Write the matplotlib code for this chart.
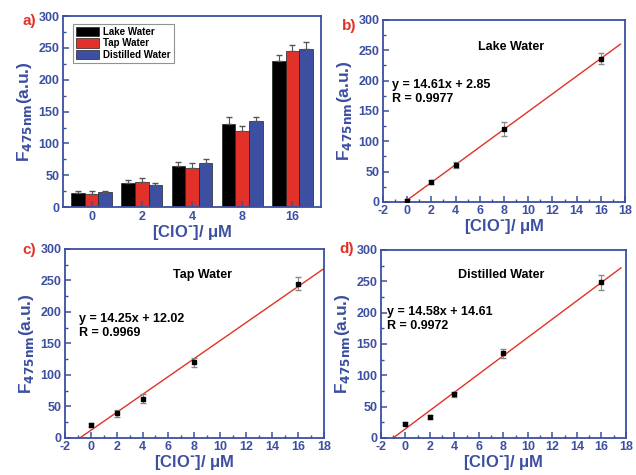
import numpy as np
import matplotlib.pyplot as plt
from matplotlib.ticker import MultipleLocator

plt.rcParams['font.family'] = ['Liberation Sans', 'DejaVu Sans']
plt.rcParams['font.weight'] = 'bold'
plt.rcParams['mathtext.default'] = 'bf'
plt.rcParams['axes.unicode_minus'] = False

BLUE = '#3c4fa0'
RED = '#e23128'

# data
conc = [0, 2, 4, 8, 16]
conc_labels = ['0', '2', '4', '8', '16']
lake = [22, 38, 65, 130, 230]
tap = [21, 39, 62, 120, 245]
distilled = [23, 34, 70, 135, 248]
lake_err = [3, 4, 6, 11, 9]
tap_err = [4, 6, 8, 8, 10]
distilled_err = [3, 4, 5, 7, 12]

# scatter panels (measured values)
lake_pts = [2, 33, 61, 120, 236]
lake_pts_err = [2, 3, 5, 11, 9]
tap_pts = [21, 39, 62, 120, 245]
tap_pts_err = [3, 5, 7, 7, 10]
dist_pts = [23, 34, 70, 135, 248]
dist_pts_err = [2, 3, 4, 7, 12]

fits = {'lake': (14.61, 2.85, 0.9977),
        'tap': (14.25, 12.02, 0.9969),
        'dist': (14.58, 14.61, 0.9972)}
line_end = {'lake': 17.6, 'tap': 18.0, 'dist': 17.6}


def style_axes(ax):
    for s in ax.spines.values():
        s.set_color(BLUE)
        s.set_linewidth(1.3)
    ax.tick_params(which='both', direction='in', colors=BLUE, labelsize=9,
                   top=False, right=False, pad=2.5)
    ax.tick_params(which='major', length=4, width=1.1)
    ax.tick_params(which='minor', length=2, width=1)
    for lab in ax.get_xticklabels() + ax.get_yticklabels():
        lab.set_fontweight('bold')
    ax.set_ylim(0, 300)
    ax.yaxis.set_major_locator(MultipleLocator(50))
    ax.yaxis.set_minor_locator(MultipleLocator(25))
    ax.set_ylabel('F$_{475nm}$(a.u.)', color=BLUE, fontsize=12.5, fontweight='bold', labelpad=3)
    ax.set_xlabel(r'[ClO$^{\text{-}}$]/ μM', color=BLUE, fontsize=12, fontweight='bold', labelpad=0)


fig = plt.figure(figsize=(6.36, 4.75), dpi=100)

# a) bar chart
ax1 = fig.add_axes([0.099, 0.564, 0.405, 0.402])
x = np.arange(len(conc))
w = 0.27
for i, (vals, err, col, name) in enumerate([(lake, lake_err, 'black', 'Lake Water'),
                                           (tap, tap_err, RED, 'Tap Water'),
                                           (distilled, distilled_err, BLUE, 'Distilled Water')]):
    ax1.bar(x + (i - 1) * w, vals, w, color=col, edgecolor='#222222', linewidth=0.5, label=name,
            yerr=[np.zeros(len(err)), err], error_kw=dict(ecolor='#555555', capsize=2.5, elinewidth=0.8))
ax1.set_xlim(-0.57, 4.56)
ax1.set_xticks(x)
ax1.set_xticklabels(conc_labels)
style_axes(ax1)
leg = ax1.legend(loc='upper left', fontsize=7, frameon=True, fancybox=False, handlelength=2.4,
                 handleheight=1.1, borderpad=0.3, labelspacing=0.15, handletextpad=0.4,
                 bbox_to_anchor=(0.02, 0.985))
leg.get_frame().set_edgecolor('#777777')
leg.get_frame().set_linewidth(0.8)

# b, c, d) scatter + fit
panels = [
    ([0.602, 0.575, 0.381, 0.383], lake_pts, lake_pts_err, 'lake', 'Lake Water',
     (8.6, 255), (-1.25, 203)),
    ([0.102, 0.078, 0.407, 0.398], tap_pts, tap_pts_err, 'tap', 'Tap Water',
     (8.6, 258), (-0.9, 199)),
    ([0.599, 0.078, 0.385, 0.396], dist_pts, dist_pts_err, 'dist', 'Distilled Water',
     (7.8, 260), (-1.5, 211)),
]
for rect, pts, err, key, title, tpos, epos in panels:
    ax = fig.add_axes(rect)
    k, b, r = fits[key]
    x0 = -b / k
    xs = np.array([x0, line_end[key]])
    ax.plot(xs, k * xs + b, color=RED, linewidth=1.0, zorder=2)
    ax.errorbar(conc, pts, yerr=err, fmt='s', color='black', markersize=3.5,
                ecolor='#888888', elinewidth=0.8, capsize=2.5, zorder=3)
    ax.set_xlim(-2, 18)
    ax.xaxis.set_major_locator(MultipleLocator(2))
    ax.xaxis.set_minor_locator(MultipleLocator(1))
    style_axes(ax)
    ax.text(tpos[0], tpos[1], title, ha='center', va='center', fontsize=9, fontweight='bold')
    ax.text(epos[0], epos[1], 'y = %.2fx + %.2f\nR = %.4f' % (k, b, r), ha='left', va='top',
            fontsize=9, fontweight='bold', linespacing=1.25)

for lab, (fx, fy) in zip(['a)', 'b)', 'c)', 'd)'],
                         [(0.035, 0.955), (0.537, 0.945), (0.035, 0.473), (0.533, 0.475)]):
    fig.text(fx, fy, lab, color=RED, fontsize=11, fontweight='bold', ha='left', va='center')

fig.savefig('out.png', dpi=100)
